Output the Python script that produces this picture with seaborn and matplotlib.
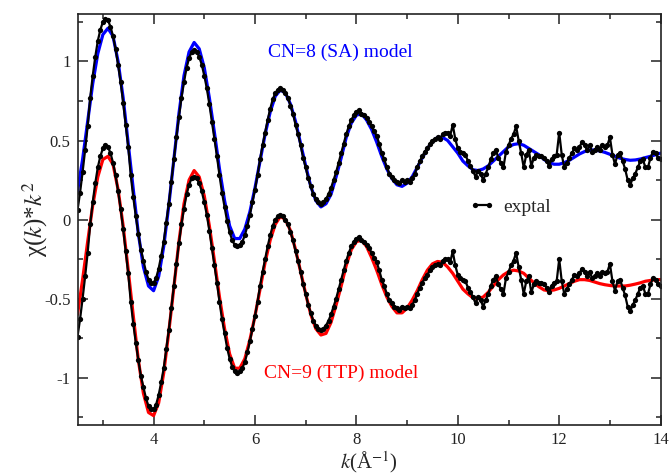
import numpy as np
import pandas as pd
import matplotlib
matplotlib.use("Agg")
import matplotlib.pyplot as plt
import seaborn as sns
from matplotlib.ticker import MultipleLocator

# k grids (A^-1)
k_exp = np.round(np.arange(2.5, 14.0001, 0.05), 2)
k_mod = np.round(np.arange(2.5, 14.0001, 0.1), 1)

# experimental chi(k)*k^2, as read on the upper pair (lower pair is the same, shifted down)
exptal = [
    0.06, 0.17, 0.30, 0.44, 0.59, 0.77, 0.91, 1.03, 1.13, 1.20,
    1.25, 1.27, 1.26, 1.22, 1.16, 1.08, 0.98, 0.87, 0.74, 0.60,
    0.46, 0.28, 0.14, 0.02, -0.09, -0.19, -0.26, -0.33, -0.38, -0.40,
    -0.40, -0.37, -0.31, -0.23, -0.14, -0.02, 0.10, 0.24, 0.38, 0.52,
    0.65, 0.77, 0.87, 0.96, 1.02, 1.06, 1.07, 1.06, 1.03, 0.98,
    0.91, 0.83, 0.73, 0.62, 0.51, 0.40, 0.28, 0.17, 0.08, -0.01,
    -0.08, -0.13, -0.16, -0.17, -0.16, -0.14, -0.10, -0.04, 0.03, 0.11,
    0.19, 0.28, 0.38, 0.47, 0.55, 0.63, 0.70, 0.76, 0.80, 0.82,
    0.83, 0.82, 0.80, 0.77, 0.72, 0.67, 0.60, 0.54, 0.47, 0.39,
    0.33, 0.26, 0.21, 0.16, 0.13, 0.11, 0.10, 0.11, 0.13, 0.16,
    0.20, 0.25, 0.30, 0.36, 0.42, 0.48, 0.54, 0.59, 0.63, 0.66,
    0.68, 0.69, 0.67, 0.66, 0.64, 0.62, 0.59, 0.56, 0.53, 0.48,
    0.42, 0.38, 0.33, 0.29, 0.27, 0.25, 0.24, 0.23, 0.25, 0.24,
    0.25, 0.24, 0.26, 0.29, 0.33, 0.37, 0.40, 0.43, 0.45, 0.48,
    0.50, 0.51, 0.52, 0.51, 0.54, 0.55, 0.55, 0.53, 0.60, 0.51,
    0.45, 0.43, 0.42, 0.41, 0.37, 0.34, 0.31, 0.27, 0.31, 0.29,
    0.25, 0.29, 0.33, 0.38, 0.42, 0.44, 0.39, 0.36, 0.33, 0.43,
    0.47, 0.51, 0.54, 0.59, 0.50, 0.42, 0.33, 0.41, 0.44, 0.34,
    0.39, 0.41, 0.40, 0.40, 0.39, 0.37, 0.34, 0.38, 0.40, 0.41,
    0.55, 0.41, 0.33, 0.36, 0.39, 0.42, 0.45, 0.44, 0.46, 0.49,
    0.47, 0.44, 0.47, 0.43, 0.44, 0.46, 0.44, 0.47, 0.46, 0.47,
    0.52, 0.41, 0.35, 0.41, 0.42, 0.37, 0.32, 0.25, 0.22, 0.26,
    0.29, 0.33, 0.37, 0.38, 0.33, 0.33, 0.39, 0.43, 0.42, 0.39,
    0.38,
]

# CN=8 square antiprism model (upper pair)
sa_model = [
    0.18, 0.38, 0.62, 0.86, 1.05,
    1.17, 1.21, 1.16, 1.00, 0.77, 0.48, 0.19, -0.09, -0.30, -0.42,
    -0.45, -0.36, -0.17, 0.09, 0.38, 0.67, 0.91, 1.06, 1.12, 1.08,
    0.96, 0.77, 0.55, 0.32, 0.12, -0.04, -0.12, -0.12, -0.06, 0.05,
    0.20, 0.37, 0.54, 0.68, 0.78, 0.82, 0.80, 0.73, 0.62, 0.48,
    0.34, 0.21, 0.12, 0.08, 0.10, 0.16, 0.27, 0.39, 0.52, 0.61,
    0.66, 0.67, 0.63, 0.57, 0.49, 0.40, 0.32, 0.26, 0.22, 0.21,
    0.23, 0.27, 0.33, 0.39, 0.45, 0.49, 0.52, 0.52, 0.50, 0.46,
    0.42, 0.37, 0.34, 0.315, 0.31, 0.32, 0.34, 0.37, 0.40, 0.43,
    0.46, 0.475, 0.48, 0.47, 0.45, 0.43, 0.41, 0.38, 0.36, 0.35,
    0.35, 0.36, 0.375, 0.395, 0.415, 0.43, 0.44, 0.44, 0.434, 0.425,
    0.413, 0.40, 0.388, 0.38, 0.375, 0.377, 0.383, 0.392, 0.40, 0.41,
    0.42,
]

# CN=9 tricapped trigonal prism model (same scale as upper pair, drawn shifted down)
ttp_model = [
    0.20, 0.42, 0.66, 0.89, 1.07,
    1.18, 1.20, 1.15, 0.99, 0.76, 0.48, 0.19, -0.09, -0.30, -0.42,
    -0.44, -0.36, -0.17, 0.09, 0.37, 0.66, 0.90, 1.05, 1.11, 1.07,
    0.95, 0.76, 0.54, 0.31, 0.11, -0.05, -0.14, -0.14, -0.08, 0.04,
    0.19, 0.36, 0.53, 0.67, 0.77, 0.82, 0.80, 0.73, 0.61, 0.47,
    0.33, 0.20, 0.11, 0.07, 0.08, 0.15, 0.26, 0.38, 0.51, 0.61,
    0.66, 0.67, 0.63, 0.56, 0.48, 0.39, 0.31, 0.25, 0.21, 0.21,
    0.24, 0.29, 0.35, 0.42, 0.48, 0.52, 0.535, 0.53, 0.50, 0.46,
    0.41, 0.36, 0.33, 0.305, 0.30, 0.31, 0.34, 0.38, 0.42, 0.45,
    0.47, 0.48, 0.475, 0.46, 0.43, 0.40, 0.375, 0.355, 0.35, 0.355,
    0.365, 0.38, 0.395, 0.41, 0.42, 0.42, 0.415, 0.405, 0.395, 0.388,
    0.383, 0.38, 0.38, 0.38, 0.385, 0.392, 0.40, 0.41, 0.415, 0.42,
    0.42,
]

offset = 0.8  # vertical shift of the lower (TTP) pair

exp_up = pd.DataFrame({'k': k_exp, 'chi': exptal})
exp_dn = pd.DataFrame({'k': k_exp, 'chi': np.array(exptal) - offset})
sa = pd.DataFrame({'k': k_mod, 'chi': sa_model})
ttp = pd.DataFrame({'k': k_mod, 'chi': np.array(ttp_model) - offset})

sns.set_theme(style="ticks")
plt.rcParams['font.family'] = ['Liberation Serif', 'DejaVu Serif']
plt.rcParams['mathtext.fontset'] = 'stix'

fig = plt.figure(figsize=(6.7, 4.75), dpi=100)
ax = fig.add_axes([0.1157, 0.105, 0.8703, 0.8655])

sns.lineplot(data=sa, x='k', y='chi', color='#0000ff', lw=2.3, ax=ax)
sns.lineplot(data=ttp, x='k', y='chi', color='#ff0000', lw=2.3, ax=ax)
for d in (exp_up, exp_dn):
    sns.lineplot(data=d, x='k', y='chi', color='black', lw=1.6, marker='o',
                 markersize=3.8, markeredgecolor='black', markeredgewidth=0,
                 ax=ax, label='exptal' if d is exp_up else None)

ax.set_xlim(2.5, 14)
ax.set_ylim(-1.3, 1.3)
ax.xaxis.set_major_locator(MultipleLocator(2))
ax.xaxis.set_minor_locator(MultipleLocator(1))
ax.yaxis.set_major_locator(MultipleLocator(0.5))
ax.yaxis.set_minor_locator(MultipleLocator(0.25))
ax.set_yticks([-1, -0.5, 0, 0.5, 1])
ax.set_yticklabels(['-1', '-0.5', '0', '0.5', '1'])
ax.tick_params(which='both', direction='in', top=True, right=True,
               labelsize=12, colors='#222222', pad=5)
ax.tick_params(which='major', length=7, width=1.1)
ax.tick_params(which='minor', length=3.5, width=1.1)
for s in ax.spines.values():
    s.set_linewidth(1.2)
    s.set_color('#222222')

ax.set_xlabel('$k$(Å$^{-1}$)', fontsize=15, va='center')
ax.xaxis.set_label_coords(0.5, -0.09)
ax.set_ylabel('χ($k$)*$k^2$', fontsize=18, va='center')
ax.yaxis.set_label_coords(-0.073, 0.5)

ax.text(6.26, 1.06, 'CN=8 (SA) model', color='#0000ff', fontsize=14, va='center')
ax.text(6.17, -0.975, 'CN=9 (TTP) model', color='#ff0000', fontsize=14, va='center')

h, l = ax.get_legend_handles_labels()
ax.legend(h[:1], ['exptal'], loc='center left', bbox_to_anchor=(0.672, 0.53),
          frameon=False, fontsize=14, handlelength=1.3, handletextpad=0.45,
          numpoints=2, borderpad=0, borderaxespad=0)

fig.savefig('out.png', dpi=100)
